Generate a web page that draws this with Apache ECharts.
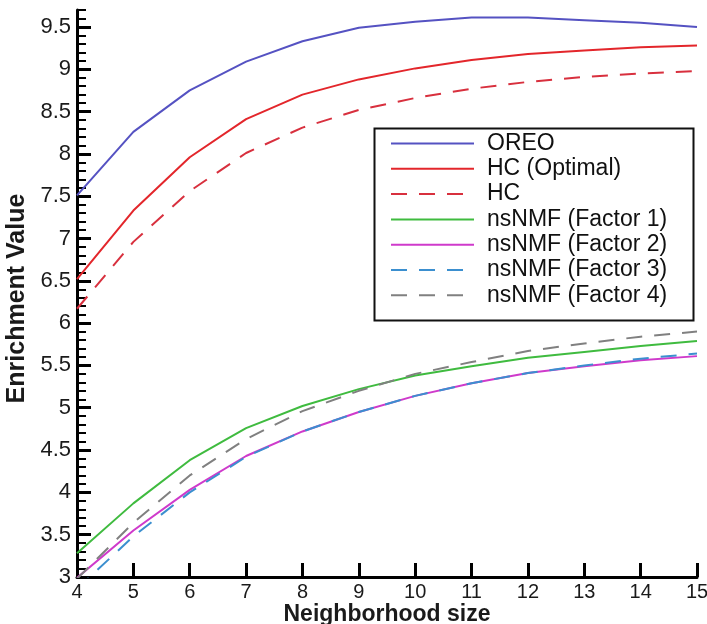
<!DOCTYPE html>
<html>
<head>
<meta charset="utf-8">
<script src="https://cdn.jsdelivr.net/npm/echarts@6/dist/echarts.min.js"></script>
<style>html,body{margin:0;padding:0;background:#fff;}#c{width:707px;height:624px;}</style>
</head>
<body>
<div id="c"></div>
<script>
var xValues = [4,5,6,7,8,9,10,11,12,13,14,15];
var oreo      = [7.51,8.26,8.75,9.09,9.33,9.49,9.56,9.61,9.61,9.58,9.55,9.50];
var hcOptimal = [6.52,7.33,7.96,8.41,8.70,8.88,9.01,9.11,9.18,9.22,9.26,9.28];
var hc        = [6.17,6.96,7.56,8.01,8.31,8.52,8.66,8.77,8.85,8.91,8.95,8.98];
var factor1   = [3.28,3.87,4.38,4.76,5.02,5.22,5.38,5.49,5.59,5.66,5.73,5.79];
var factor2   = [2.99,3.55,4.03,4.43,4.72,4.95,5.14,5.29,5.41,5.49,5.56,5.61];
var factor3   = [2.86,3.48,4.00,4.42,4.72,4.95,5.14,5.29,5.41,5.50,5.58,5.64];
var factor4   = [2.98,3.64,4.20,4.63,4.96,5.20,5.40,5.54,5.67,5.76,5.84,5.90];
var seriesNames = ['OREO','HC (Optimal)','HC','nsNMF (Factor 1)','nsNMF (Factor 2)','nsNMF (Factor 3)','nsNMF (Factor 4)'];
var yMajorTicks = [3,3.5,4,4.5,5,5.5,6,6.5,7,7.5,8,8.5,9,9.5];
var xTicks = [4,5,6,7,8,9,10,11,12,13,14,15];

var allData = [oreo,hcOptimal,hc,factor1,factor2,factor3,factor4];
var colors = ['#5552c2','#e3262b','#d8303e','#3fbb3f','#cf3acb','#3b8fcf','#808080'];
var dashed = [false,false,true,false,false,true,true];

function pairs(arr){ return xValues.map(function(x,i){ return [x, arr[i]]; }); }

var series = allData.map(function(d,i){
  return {
    name: seriesNames[i], type: 'line', data: pairs(d), symbol: 'none', showSymbol: false,
    xAxisIndex: 0, yAxisIndex: 0,
    lineStyle: { color: colors[i], width: 2, type: dashed[i] ? [16,12] : 'solid' },
    itemStyle: { color: colors[i] },
    emphasis: { disabled: true }, clip: true
  };
});

function gridBox(){ return { left: 77, right: 10, top: 10, bottom: 47, containLabel: false, outerBoundsMode: 'none' }; }

var chart = echarts.init(document.getElementById('c'));
chart.setOption({
  animation: false,
  backgroundColor: '#fff',
  grid: [gridBox(), gridBox()],
  xAxis: [{
    gridIndex: 0, type: 'value', min: 4, max: 15, interval: 1,
    name: 'Neighborhood size', nameLocation: 'middle', nameGap: 26, nameMoveOverlap: false,
    nameTextStyle: { fontFamily: 'Liberation Sans', fontWeight: 'bold', fontSize: 23, color: '#1a1a1a' },
    axisLine: { show: true, onZero: false, lineStyle: { color: '#000', width: 3 } },
    axisTick: { show: true, inside: true, length: 14, lineStyle: { color: '#000', width: 3 } },
    axisLabel: { fontFamily: 'Liberation Sans', fontSize: 20, color: '#1a1a1a', margin: 5,
                 customValues: xTicks, hideOverlap: false },
    splitLine: { show: false }
  },{
    gridIndex: 1, type: 'value', min: 4, max: 15, show: false
  }],
  yAxis: [{
    gridIndex: 0, type: 'value', min: 3, max: 9.7, interval: 0.5,
    name: 'Enrichment Value', nameLocation: 'middle', nameGap: 47,
    nameTextStyle: { fontFamily: 'Liberation Sans', fontWeight: 'bold', fontSize: 25, color: '#1a1a1a',
                     padding: [0, 10, 0, 0] },
    axisLine: { show: true, onZero: false, lineStyle: { color: '#000', width: 3 } },
    axisTick: { show: true, inside: true, length: 14, lineStyle: { color: '#000', width: 3 },
                customValues: yMajorTicks },
    axisLabel: { fontFamily: 'Liberation Sans', fontSize: 22, color: '#1a1a1a', margin: 6,
                 customValues: yMajorTicks, hideOverlap: false },
    splitLine: { show: false }
  },{
    gridIndex: 1, type: 'value', min: 3, max: 9.7, interval: 0.1, position: 'left',
    axisLine: { show: false },
    axisTick: { show: true, inside: true, length: 9, lineStyle: { color: '#000', width: 2 } },
    axisLabel: { show: false },
    splitLine: { show: false }
  }],
  legend: {
    orient: 'vertical', left: 385, top: 127,
    itemWidth: 83, itemHeight: 14, itemGap: 2.3,
    itemStyle: { opacity: 0 },
    textStyle: { fontFamily: 'Liberation Sans', fontSize: 23, color: '#111', lineHeight: 23,
                 padding: [0, 0, 0, 8] },
    data: seriesNames
  },
  graphic: [{
    type: 'rect', left: 372, top: 126, z: 100,
    shape: { width: 319, height: 192 },
    style: { fill: 'none', stroke: '#111', lineWidth: 2 }
  }],
  series: series
});
</script>
</body>
</html>
